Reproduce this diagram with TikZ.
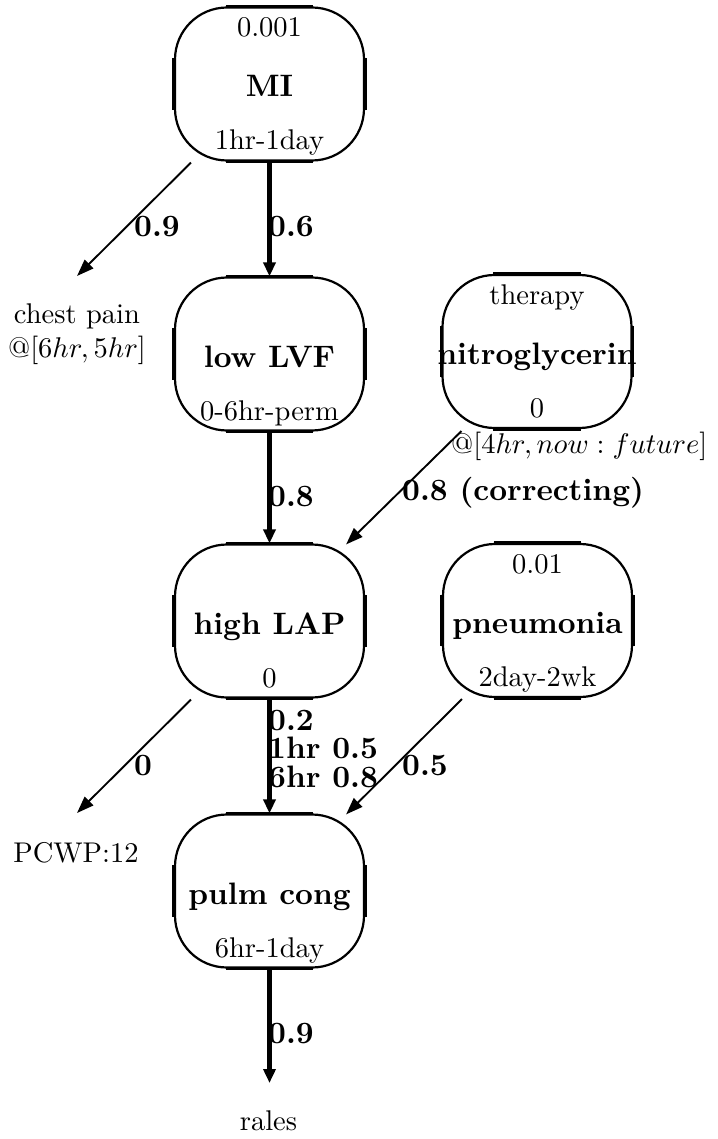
\documentclass[tikz,border=0pt]{standalone}
\usepackage{fontspec}
\setmainfont{lmroman10-regular.otf}[BoldFont=lmroman10-bold.otf,ItalicFont=lmroman10-italic.otf]
\DeclareFontShape{OML}{cmm}{m}{it}{<-> cmmi10}{}
\DeclareFontShape{OT1}{cmr}{m}{n}{<-> cmr10}{}
\DeclareFontShape{OMS}{cmsy}{m}{n}{<-> cmsy10}{}
\DeclareFontShape{OMX}{cmex}{m}{n}{<-> cmex10}{}
\usetikzlibrary{calc,arrows.meta}
\tikzset{
  rb/.style={draw, line width=2.2pt, rounded corners=52pt, minimum width=189pt,
    minimum height=153pt, inner sep=0pt},
  thinedge/.style={line width=1.9pt, -{Triangle[length=17pt,width=12pt]}},
  thickedge/.style={line width=4.4pt, -{Triangle[length=14pt,width=12pt]}},
  rt/.style={font=\fontsize{28.5}{34}\selectfont, inner sep=0pt, anchor=base},
  bt/.style={font=\fontsize{31}{37}\selectfont\bfseries, inner sep=0pt, anchor=base},
  blab/.style={font=\fontsize{31}{37}\selectfont\bfseries, inner sep=0pt, anchor=base west},
  rlab/.style={font=\fontsize{28.5}{34}\selectfont, inner sep=0pt, anchor=base west},
  flat/.style={line width=3.3pt},
}
\newcommand\flatsides[1]{%
  \draw[flat] ($(#1.north west)+(52,0)$) -- ($(#1.north east)+(-52,0)$);
  \draw[flat] ($(#1.south west)+(52,0)$) -- ($(#1.south east)+(-52,0)$);
  \draw[flat] ($(#1.north west)+(0,52)$) -- ($(#1.south west)+(0,-52)$);
  \draw[flat] ($(#1.north east)+(0,52)$) -- ($(#1.south east)+(0,-52)$);
}
\begin{document}
\begin{tikzpicture}[x=1pt,y=-1pt]
\useasboundingbox (0,0) rectangle (717,1139);

% box texts
\node[rt] (MIt) at (269.5,37) {0.001};
\node[bt] (MIm) at (269.5,97) {MI};
\node[rt] (MIb) at (269.5,150) {1hr-1day};

\node[bt] (LVFm) at (269.5,367) {low LVF};
\node[rt] (LVFb) at (269.5,420) {0-6hr-perm};

\node[rt] (NGt) at (537,304.5) {therapy};
\node[bt] (NGm) at (537,364.5) {nitroglycerin};
\node[rt] (NGb) at (537,417.5) {0};

\node[bt] (LAPm) at (269.5,634) {high LAP};
\node[rt] (LAPb) at (269.5,687) {0};

\node[rt] (PNt) at (537.5,573.5) {0.01};
\node[bt] (PNm) at (537.5,633.5) {pneumonia};
\node[rt] (PNb) at (537.5,686.5) {2day-2wk};

\node[bt] (PCm) at (269.5,904) {pulm cong};
\node[rt] (PCb) at (269.5,957) {6hr-1day};

% boxes
\node[rb] (MI) at (269.5,84) {};
\node[rb] (LVF) at (269.5,354) {};
\node[rb] (NG) at (537,351.5) {};
\node[rb] (LAP) at (269.5,621) {};
\node[rb] (PN) at (537.5,620.5) {};
\node[rb] (PC) at (269.5,891) {};
\flatsides{MI}\flatsides{LVF}\flatsides{NG}\flatsides{LAP}\flatsides{PN}\flatsides{PC}

% outside texts
\node[rt] (cp1) at (77,323) {chest pain};
\node[rt] (cp2) at (77,357) {@$[6hr,5hr]$};
\node[rt] (pcwp) at (76,862) {PCWP:12};
\node[rt] (rales) at (268.5,1130) {rales};
\node[rlab] (ngat) at (451,453) {@$[4hr,now:future]$};

\coordinate (cpTip) at (77,276);
\coordinate (pcTip) at (77,813);
\coordinate (raTip) at (269.5,1083);

% connectors
\draw[thinedge] ($(MI.south west)+(17,1)$) -- (cpTip);
\draw[thickedge] (MI.south) -- (LVF.north);
\draw[thickedge] (LVF.south) -- (LAP.north);
\draw[thinedge] ($(NG.south west)+(20,2)$) -- ($(LAP.north east)+(-19,1)$);
\draw[thinedge] ($(LAP.south west)+(17,1)$) -- (pcTip);
\draw[thickedge] (LAP.south) -- (PC.north);
\draw[thinedge] ($(PN.south west)+(20,1)$) -- ($(PC.north east)+(-19,1)$);
\draw[thickedge] (PC.south) -- (raTip);

% edge labels
\node[blab] (e1) at (134,237) {0.9};
\node[blab] (e2) at (268,237) {0.6};
\node[blab] (e3) at (268,506) {0.8};
\node[blab] (e4) at (402,500) {0.8 (correcting)};
\node[blab] (e5) at (134,775) {0};
\node[blab] (e6a) at (268,730) {0.2};
\node[blab] (e6b) at (268,758) {1hr 0.5};
\node[blab] (e6c) at (268,787) {6hr 0.8};
\node[blab] (e7) at (402,775) {0.5};
\node[blab] (e8) at (268,1043) {0.9};
\end{tikzpicture}
\end{document}
